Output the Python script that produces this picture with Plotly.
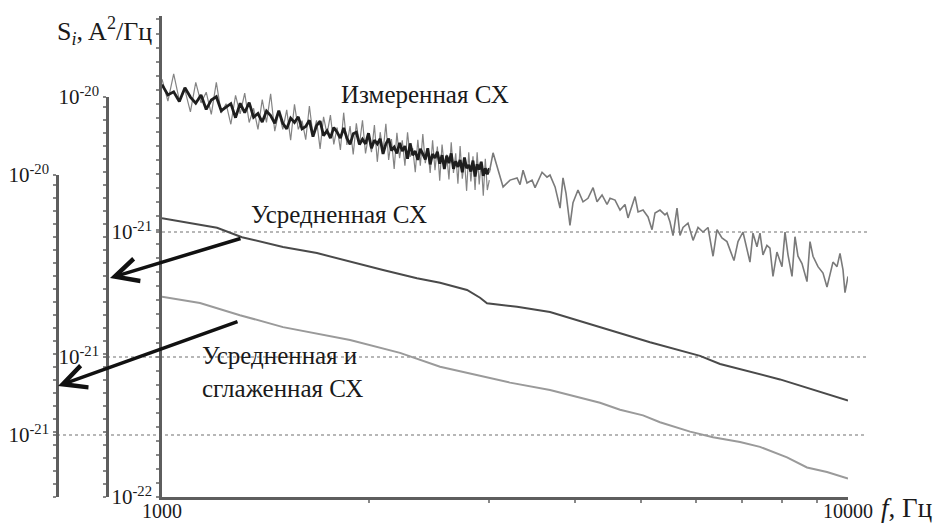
import numpy as np
import plotly.graph_objects as go

# ---------------- data (S values in units of 1e-21 A^2/Hz) ----------------
UNIT = 1e-21

freq_dense = [1000, 1020, 1040, 1060, 1080, 1100, 1120, 1140, 1160, 1180,
              1200, 1220, 1240, 1260, 1280, 1300, 1320, 1340, 1360, 1380,
              1400, 1420, 1440, 1460, 1480, 1500, 1520, 1540, 1560, 1580,
              1600, 1620, 1640, 1660, 1680, 1700, 1720, 1740, 1760, 1780,
              1800, 1820, 1840, 1860, 1880, 1900, 1920, 1940, 1960, 1980,
              2000, 2020, 2040, 2060, 2080, 2100, 2120, 2140, 2160, 2180,
              2200, 2220, 2240, 2260, 2280, 2300, 2320, 2340, 2360, 2380,
              2400, 2420, 2440, 2460, 2480, 2500, 2520, 2540, 2560, 2580,
              2600, 2620, 2640, 2660, 2680, 2700, 2720, 2740, 2760, 2780,
              2800, 2820, 2840, 2860, 2880, 2900, 2920, 2940, 2960, 2980, 3000]

measured_dense_spread = [
    3.77, 3.12, 3.95, 3.14, 3.43, 2.84, 3.67, 3.07, 3.37, 2.78,
    3.67, 2.81, 3.05, 2.55, 3.28, 2.79, 3.34, 2.59, 2.93, 2.44,
    3.16, 2.59, 3.32, 2.40, 2.84, 2.44, 2.89, 2.22, 3.03, 2.44,
    2.63, 2.23, 2.99, 2.32, 2.64, 2.06, 2.72, 2.34, 2.76, 2.14,
    2.48, 2.04, 2.82, 2.13, 2.51, 1.96, 2.57, 2.14, 2.64, 1.98,
    2.30, 2.00, 2.53, 1.84, 2.38, 2.01, 2.56, 1.87, 2.24, 1.73,
    2.37, 1.90, 2.22, 1.78, 2.38, 1.92, 2.07, 1.68, 2.23, 1.78,
    2.34, 1.82, 2.07, 1.67, 2.22, 1.71, 2.10, 1.56, 2.14, 1.77,
    1.96, 1.58, 2.18, 1.67, 1.98, 1.52, 2.11, 1.59, 1.87, 1.43,
    2.00, 1.55, 1.93, 1.44, 2.00, 1.51, 1.84, 1.37, 1.89, 1.44, 1.57]

measured_dense_core = [
    3.60, 3.29, 3.38, 3.11, 3.50, 3.23, 3.06, 3.29, 2.90, 3.15,
    3.24, 2.87, 2.96, 3.05, 2.70, 3.06, 2.82, 3.08, 2.71, 2.80,
    2.60, 2.86, 2.75, 2.57, 2.87, 2.57, 2.45, 2.69, 2.59, 2.72,
    2.45, 2.50, 2.64, 2.29, 2.52, 2.62, 2.31, 2.41, 2.26, 2.48,
    2.38, 2.26, 2.47, 2.26, 2.14, 2.35, 2.38, 2.14, 2.24, 2.15,
    2.36, 2.07, 2.22, 2.15, 2.25, 1.97, 2.15, 2.25, 2.03, 2.09,
    1.98, 2.17, 2.02, 2.11, 1.89, 2.16, 1.95, 2.02, 1.87, 2.06,
    1.97, 1.88, 2.07, 1.80, 1.97, 1.90, 2.01, 1.81, 1.95, 1.73,
    1.94, 1.82, 1.98, 1.73, 1.85, 1.76, 1.87, 1.68, 1.91, 1.74,
    1.79, 1.69, 1.86, 1.62, 1.80, 1.72, 1.84, 1.63, 1.74, 1.65, 1.74]

freq_sparse = [3000, 3038, 3142, 3216, 3293, 3326, 3360, 3405, 3463, 3498,
               3581, 3641, 3678, 3741, 3804, 3842, 3881, 3933, 3973, 4040,
               4109, 4178, 4250, 4307, 4380, 4454, 4499, 4575, 4653, 4731,
               4779, 4893, 4943, 5026, 5111, 5180, 5232, 5320, 5410, 5447,
               5502, 5558, 5633, 5690, 5748, 5845, 5945, 6045, 6147, 6251,
               6357, 6442, 6550, 6661, 6820, 6913, 7029, 7124, 7196, 7269,
               7367, 7442, 7517, 7618, 7695, 7774, 7878, 8013, 8094, 8176,
               8287, 8370, 8455, 8569, 8714, 8803, 8892, 9042, 9195, 9319,
               9413, 9508, 9638, 9735, 9834, 9899, 10000]

measured_sparse = [1.68, 1.99, 1.48, 1.57, 1.60, 1.51, 1.71, 1.53, 1.57, 1.47,
                   1.68, 1.61, 1.64, 1.48, 1.23, 1.60, 1.40, 1.06, 1.29, 1.44,
                   1.30, 1.34, 1.47, 1.30, 1.38, 1.27, 1.34, 1.32, 1.21, 1.27,
                   1.13, 1.36, 1.19, 1.21, 1.14, 1.02, 1.18, 1.21, 1.16, 1.18,
                   1.09, 0.97, 1.23, 0.97, 1.04, 1.08, 0.93, 1.04, 1.00, 1.04,
                   0.81, 1.02, 0.95, 0.92, 0.78, 0.92, 1.00, 0.87, 0.77, 0.99,
                   0.88, 0.99, 0.82, 0.89, 0.87, 0.68, 0.84, 0.74, 1.00, 0.82,
                   0.68, 0.96, 0.81, 0.76, 0.65, 0.92, 0.81, 0.74, 0.70, 0.62,
                   0.70, 0.77, 0.74, 0.83, 0.72, 0.59, 0.68]

freq_avg = [1000, 1098, 1203, 1308, 1501, 1682, 1880, 2100, 2353, 2543, 2784,
            2908, 2977, 3293, 3678, 5145, 6085, 6509, 7960, 8892, 10000]
averaged = [3.42, 3.28, 3.14, 2.89, 2.65, 2.51, 2.32, 2.16, 2.01, 1.93, 1.81,
            1.69, 1.61, 1.56, 1.49, 1.14, 1.01, 0.94, 0.82, 0.75, 0.68]

freq_smooth = [1000, 1136, 1299, 1501, 1880, 2223, 2543, 3216, 3678, 4350, 4653,
               5026, 5320, 5885, 6357, 6960, 7442, 8149, 8714, 9319, 10000]
smoothed = [3.40, 3.22, 2.89, 2.60, 2.32, 2.07, 1.83, 1.59, 1.49, 1.33, 1.25,
            1.19, 1.12, 1.03, 0.98, 0.94, 0.90, 0.82, 0.75, 0.72, 0.68]

x_tick_vals = [1000, 10000]
x_tick_text = ["1000", "10000"]
x_minor_vals = [2000, 3000, 4000, 5000, 6000, 7000, 8000, 9000]

main_tick_vals = [1e-22, 1e-21]
main_tick_text = ["10<sup>-22</sup>", "10<sup>-21</sup>"]
mid_tick_vals = [1e-20, 1e-21]
mid_tick_text = ["10<sup>-20</sup>", "10<sup>-21</sup>"]
left_tick_vals = [1e-20, 1e-21]
left_tick_text = ["10<sup>-20</sup>", "10<sup>-21</sup>"]

# ---------------- layout geometry ----------------
W, H = 937, 523
TOP, BOTTOM = 16, 497
PLOT_H = BOTTOM - TOP
XL, XR = 162, 848
MID_X, LEFT_X = 107, 57
GRID_END = 867

main_range = [-22.0, -22.0 + PLOT_H / 265.0]
mid_top, left_top = 97, 175
mid_range = [-20.0 - (BOTTOM - mid_top) / 260.0, -20.0]
left_range = [-20.0 - (BOTTOM - left_top) / 260.0, -20.0]

FONT = "'Liberation Serif', 'DejaVu Serif', serif"
AX_COL = "#5e5e5e"
TXT_COL = "#1a1a1a"

fig = go.Figure()

sc = lambda v: (np.array(v) * UNIT)

fig.add_trace(go.Scatter(x=freq_dense, y=sc(measured_dense_spread), mode="lines",
                         line=dict(color="#848484", width=1.2), yaxis="y"))
fig.add_trace(go.Scatter(x=freq_dense, y=sc(measured_dense_core), mode="lines",
                         line=dict(color="#1e1e1e", width=2.8), yaxis="y"))
fig.add_trace(go.Scatter(x=freq_sparse, y=sc(measured_sparse), mode="lines",
                         line=dict(color="#7a7a7a", width=1.6), yaxis="y"))
fig.add_trace(go.Scatter(x=freq_avg, y=sc(averaged), mode="lines",
                         line=dict(color="#4a4a4a", width=2), yaxis="y2"))
fig.add_trace(go.Scatter(x=freq_smooth, y=sc(smoothed), mode="lines",
                         line=dict(color="#9a9a9a", width=2), yaxis="y3"))

def minor_vals(rng, step):
    return list(10 ** np.arange(rng[0], rng[1] + 1e-9, step))

common_y = dict(type="log", showgrid=False, zeroline=False, showline=True,
                linecolor=AX_COL, linewidth=2.5, ticks="outside", ticklen=3,
                tickwidth=1.5, tickcolor="#888", tickmode="array", automargin=False,
                tickfont=dict(family=FONT, size=21, color=TXT_COL))

fig.update_layout(
    width=W, height=H,
    margin=dict(l=0, r=0, t=TOP, b=H - BOTTOM, pad=0, autoexpand=False),
    paper_bgcolor="white", plot_bgcolor="rgba(0,0,0,0)",
    showlegend=False,
    font=dict(family=FONT, color=TXT_COL),
    xaxis=dict(type="log", range=[3, 4], domain=[XL / W, XR / W], anchor="y",
               showgrid=False, zeroline=False, showline=True, linecolor=AX_COL,
               linewidth=2.5, ticks="", tickmode="array", tickvals=x_tick_vals,
               ticktext=x_tick_text, automargin=False, ticklabelstandoff=-6,
               tickfont=dict(family=FONT, size=20, color=TXT_COL),
               minor=dict(tickmode="array", tickvals=x_minor_vals, ticks="outside",
                          ticklen=3, tickwidth=1.5, tickcolor="#888")),
    yaxis=dict(range=main_range, domain=[0, 1], anchor="x",
               tickvals=main_tick_vals, ticktext=main_tick_text,
               minor=dict(tickmode="array", tickvals=minor_vals(main_range, 0.053),
                          ticks="outside", ticklen=3, tickwidth=1.5, tickcolor="#888"),
               **common_y),
    yaxis2=dict(range=mid_range, domain=[0, (BOTTOM - mid_top) / PLOT_H],
                anchor="free", position=MID_X / W,
                tickvals=mid_tick_vals, ticktext=mid_tick_text,
                minor=dict(tickmode="array", tickvals=minor_vals(mid_range, 0.05),
                           ticks="outside", ticklen=3, tickwidth=1.5, tickcolor="#888"),
                **common_y),
    yaxis3=dict(range=left_range, domain=[0, (BOTTOM - left_top) / PLOT_H],
                anchor="free", position=LEFT_X / W,
                tickvals=left_tick_vals, ticktext=left_tick_text,
                minor=dict(tickmode="array", tickvals=minor_vals(left_range, 0.05),
                           ticks="outside", ticklen=3, tickwidth=1.5, tickcolor="#888"),
                **common_y),
)

# dotted 10^-21 gridlines of each axis, extended to the right
def frac(rng, v):
    return (np.log10(v) - rng[0]) / (rng[1] - rng[0])

for ref, rng, x0 in [("y", main_range, XL), ("y2", mid_range, MID_X), ("y3", left_range, LEFT_X)]:
    yy = frac(rng, 1e-21)
    fig.add_shape(type="line", xref="paper", yref=ref + " domain",
                  x0=x0 / W, x1=GRID_END / W, y0=yy, y1=yy,
                  line=dict(color="#a0a0a0", width=1.5, dash="dot"), layer="below")

def py(p):
    return (BOTTOM - p) / PLOT_H

TXT = 25
def label(text, cx, cy, size=TXT, xanchor="center", align="center"):
    fig.add_annotation(text=text, x=cx / W, y=py(cy), xref="paper", yref="paper",
                       xanchor=xanchor, yanchor="middle", align=align, showarrow=False,
                       font=dict(size=size, family=FONT, color=TXT_COL))

label("Измеренная СХ", 425, 95)
label("Усредненная СХ", 339, 214)
label("Усредненная и<br>сглаженная СХ", 200, 372, xanchor="left", align="left")
label("S<sub><i>i</i></sub>, A<sup>2</sup>/Гц", 104, 31, size=26)
label("<i>f</i>, Гц", 906, 508, size=27)

# arrows pointing to the shifted axes
for hx, hy, tx, ty in [(110, 278, 242, 238), (58, 386, 239, 321)]:
    fig.add_annotation(text="", x=hx / W, y=py(hy), xref="paper", yref="paper",
                       showarrow=True, ax=tx - hx, ay=ty - hy, arrowhead=5,
                       arrowsize=1.3, arrowwidth=3.5, arrowcolor="#111", standoff=0)

fig.write_html("out.html", config={"displayModeBar": False},
               post_script="document.body.style.margin='0';"
                           "document.body.style.overflow='hidden';")
